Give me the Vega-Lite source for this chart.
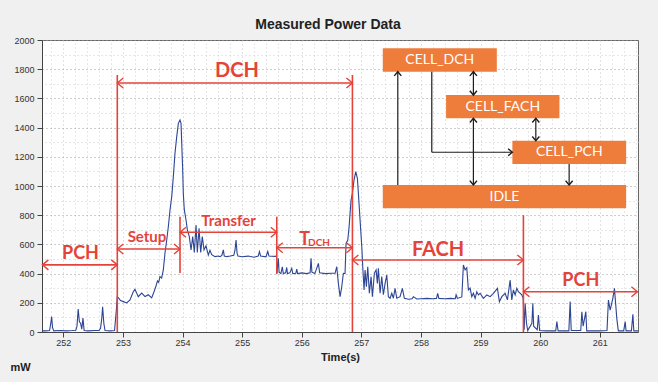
{
  "$schema": "https://vega.github.io/schema/vega-lite/v6.json",
  "autosize": "none",
  "width": 596,
  "height": 292,
  "padding": {"left": 42, "top": 40, "right": 20, "bottom": 50},
  "background": "#f0f0f0",
  "title": {"text": "Measured Power Data", "font": "Liberation Sans", "fontSize": 14, "fontWeight": "bold", "color": "#222", "anchor": "middle", "dx": -12, "offset": 4},
  "config": {
    "view": {"fill": "white", "stroke": "#666", "strokeWidth": 1},
    "axis": {"labelFont": "Liberation Sans", "labelFontSize": 9, "labelColor": "#333", "titleFont": "Liberation Sans", "titleFontSize": 11, "titleFontWeight": "bold", "titleColor": "#222", "domainColor": "#444", "tickColor": "#444", "gridDash": [1, 3]}
  },
  "resolve": {"axis": {"x": "independent", "y": "independent"}},
  "datasets": {
    "trace": [
      {"t":251.65,"p":8},{"t":251.70,"p":8},{"t":251.77,"p":10},{"t":251.79,"p":60},{"t":251.805,"p":105},{"t":251.82,"p":30},{"t":251.84,"p":8},{"t":251.95,"p":10},{"t":252.05,"p":8},{"t":252.15,"p":10},{"t":252.21,"p":12},{"t":252.23,"p":40},{"t":252.25,"p":157},{"t":252.27,"p":70},{"t":252.29,"p":60},{"t":252.31,"p":20},{"t":252.33,"p":95},{"t":252.35,"p":10},{"t":252.42,"p":8},{"t":252.52,"p":10},{"t":252.60,"p":10},{"t":252.625,"p":25},{"t":252.645,"p":90},{"t":252.66,"p":173},{"t":252.68,"p":60},{"t":252.70,"p":10},{"t":252.78,"p":8},{"t":252.86,"p":10},{"t":252.89,"p":150},{"t":252.905,"p":240},{"t":252.923,"p":235},{"t":252.96,"p":215},{"t":253.007,"p":208},{"t":253.064,"p":199},{"t":253.119,"p":219},{"t":253.174,"p":276},{"t":253.203,"p":292},{"t":253.258,"p":242},{"t":253.315,"p":267},{"t":253.371,"p":243},{"t":253.426,"p":255},{"t":253.483,"p":234},{"t":253.522,"p":276},{"t":253.555,"p":315},{"t":253.58,"p":350},{"t":253.60,"p":340},{"t":253.622,"p":379},{"t":253.65,"p":370},{"t":253.678,"p":425},{"t":253.706,"p":541},{"t":253.735,"p":630},{"t":253.762,"p":721},{"t":253.790,"p":836},{"t":253.819,"p":927},{"t":253.846,"p":1064},{"t":253.874,"p":1226},{"t":253.903,"p":1338},{"t":253.930,"p":1429},{"t":253.958,"p":1452},{"t":253.975,"p":1429},{"t":253.987,"p":1292},{"t":254.003,"p":1110},{"t":254.013,"p":950},{"t":254.030,"p":836},{"t":254.059,"p":767},{"t":254.081,"p":700},{"t":254.114,"p":653},{"t":254.143,"p":562},{"t":254.171,"p":653},{"t":254.198,"p":545},{"t":254.227,"p":733},{"t":254.248,"p":545},{"t":254.277,"p":710},{"t":254.305,"p":545},{"t":254.332,"p":653},{"t":254.361,"p":562},{"t":254.394,"p":590},{"t":254.433,"p":527},{"t":254.46,"p":560},{"t":254.490,"p":530},{"t":254.545,"p":516},{"t":254.60,"p":520},{"t":254.629,"p":516},{"t":254.66,"p":525},{"t":254.685,"p":562},{"t":254.70,"p":520},{"t":254.742,"p":516},{"t":254.80,"p":520},{"t":254.86,"p":525},{"t":254.88,"p":560},{"t":254.898,"p":630},{"t":254.915,"p":540},{"t":254.93,"p":520},{"t":255.00,"p":515},{"t":255.10,"p":520},{"t":255.20,"p":512},{"t":255.27,"p":520},{"t":255.29,"p":550},{"t":255.31,"p":520},{"t":255.40,"p":515},{"t":255.43,"p":552},{"t":255.45,"p":520},{"t":255.55,"p":518},{"t":255.575,"p":520},{"t":255.585,"p":405},{"t":255.607,"p":505},{"t":255.62,"p":410},{"t":255.65,"p":400},{"t":255.674,"p":447},{"t":255.69,"p":400},{"t":255.73,"p":405},{"t":255.748,"p":442},{"t":255.76,"p":400},{"t":255.80,"p":405},{"t":255.832,"p":436},{"t":255.85,"p":400},{"t":255.90,"p":402},{"t":255.916,"p":430},{"t":255.93,"p":400},{"t":256.00,"p":405},{"t":256.08,"p":400},{"t":256.14,"p":405},{"t":256.156,"p":505},{"t":256.17,"p":410},{"t":256.22,"p":400},{"t":256.279,"p":470},{"t":256.30,"p":405},{"t":256.40,"p":400},{"t":256.50,"p":402},{"t":256.559,"p":402},{"t":256.587,"p":447},{"t":256.614,"p":333},{"t":256.643,"p":242},{"t":256.671,"p":310},{"t":256.698,"p":402},{"t":256.726,"p":400},{"t":256.743,"p":607},{"t":256.772,"p":630},{"t":256.794,"p":721},{"t":256.827,"p":904},{"t":256.849,"p":950},{"t":256.877,"p":1041},{"t":256.906,"p":1098},{"t":256.933,"p":1053},{"t":256.950,"p":950},{"t":256.978,"p":767},{"t":257.007,"p":584},{"t":257.023,"p":447},{"t":257.045,"p":288},{"t":257.062,"p":425},{"t":257.084,"p":310},{"t":257.107,"p":447},{"t":257.134,"p":265},{"t":257.163,"p":379},{"t":257.185,"p":242},{"t":257.218,"p":402},{"t":257.247,"p":425},{"t":257.268,"p":333},{"t":257.285,"p":436},{"t":257.314,"p":265},{"t":257.342,"p":379},{"t":257.369,"p":255},{"t":257.398,"p":333},{"t":257.426,"p":390},{"t":257.453,"p":242},{"t":257.482,"p":231},{"t":257.510,"p":265},{"t":257.537,"p":231},{"t":257.565,"p":299},{"t":257.594,"p":231},{"t":257.649,"p":242},{"t":257.688,"p":299},{"t":257.721,"p":231},{"t":257.789,"p":224},{"t":257.85,"p":228},{"t":257.872,"p":242},{"t":257.929,"p":226},{"t":258.00,"p":228},{"t":258.10,"p":230},{"t":258.20,"p":228},{"t":258.26,"p":230},{"t":258.28,"p":265},{"t":258.30,"p":230},{"t":258.40,"p":228},{"t":258.50,"p":230},{"t":258.575,"p":228},{"t":258.589,"p":255},{"t":258.61,"p":230},{"t":258.685,"p":240},{"t":258.711,"p":459},{"t":258.740,"p":425},{"t":258.768,"p":440},{"t":258.795,"p":288},{"t":258.824,"p":300},{"t":258.852,"p":242},{"t":258.879,"p":265},{"t":258.908,"p":231},{"t":258.936,"p":276},{"t":258.963,"p":254},{"t":258.992,"p":265},{"t":259.047,"p":231},{"t":259.104,"p":254},{"t":259.160,"p":242},{"t":259.215,"p":265},{"t":259.282,"p":299},{"t":259.315,"p":208},{"t":259.356,"p":242},{"t":259.411,"p":265},{"t":259.450,"p":220},{"t":259.495,"p":356},{"t":259.523,"p":220},{"t":259.550,"p":288},{"t":259.579,"p":254},{"t":259.607,"p":299},{"t":259.634,"p":276},{"t":259.691,"p":254},{"t":259.715,"p":231},{"t":259.73,"p":15},{"t":259.747,"p":196},{"t":259.77,"p":60},{"t":259.79,"p":10},{"t":259.86,"p":60},{"t":259.876,"p":196},{"t":259.89,"p":40},{"t":259.95,"p":15},{"t":259.970,"p":116},{"t":259.99,"p":10},{"t":260.10,"p":8},{"t":260.26,"p":8},{"t":260.279,"p":71},{"t":260.30,"p":8},{"t":260.48,"p":8},{"t":260.502,"p":208},{"t":260.52,"p":10},{"t":260.68,"p":10},{"t":260.698,"p":139},{"t":260.72,"p":40},{"t":260.765,"p":139},{"t":260.78,"p":8},{"t":261.00,"p":8},{"t":261.12,"p":10},{"t":261.144,"p":219},{"t":261.173,"p":150},{"t":261.218,"p":231},{"t":261.245,"p":299},{"t":261.285,"p":90},{"t":261.31,"p":8},{"t":261.40,"p":8},{"t":261.425,"p":71},{"t":261.44,"p":8},{"t":261.53,"p":8},{"t":261.554,"p":121},{"t":261.57,"p":8},{"t":261.64,"p":8}
    ],
    "segs": [
      {"t1":252.906,"t2":252.906,"p1":0,"p2":1760,"col":"red"},
      {"t1":256.85,"t2":256.85,"p1":0,"p2":1760,"col":"red"},
      {"t1":253.958,"t2":253.958,"p1":404,"p2":790,"col":"red"},
      {"t1":255.581,"t2":255.581,"p1":397,"p2":790,"col":"red"},
      {"t1":259.718,"t2":259.718,"p1":0,"p2":800,"col":"red"},
      {"t1":251.65,"t2":252.906,"p1":460,"p2":460,"col":"red"},
      {"t1":252.906,"t2":253.958,"p1":568,"p2":568,"col":"red"},
      {"t1":253.958,"t2":255.581,"p1":683,"p2":683,"col":"red"},
      {"t1":255.581,"t2":256.85,"p1":577,"p2":577,"col":"red"},
      {"t1":252.906,"t2":256.85,"p1":1705,"p2":1705,"col":"red"},
      {"t1":256.85,"t2":259.718,"p1":493,"p2":493,"col":"red"},
      {"t1":259.718,"t2":261.63,"p1":276,"p2":276,"col":"red"},
      {"t1":257.611,"t2":257.611,"p1":1007,"p2":1783,"col":"black"},
      {"t1":258.879,"t2":258.879,"p1":1623,"p2":1783,"col":"black"},
      {"t1":259.926,"t2":259.926,"p1":1310,"p2":1464,"col":"black"},
      {"t1":258.181,"t2":258.181,"p1":1231,"p2":1783,"col":"black"},
      {"t1":258.181,"t2":259.533,"p1":1231,"p2":1231,"col":"black"},
      {"t1":258.879,"t2":258.879,"p1":1007,"p2":1464,"col":"black"},
      {"t1":260.485,"t2":260.485,"p1":1007,"p2":1151,"col":"black"}
    ],
    "heads": [
      {"t":251.65,"p":460,"dir":"left","col":"red"},{"t":252.906,"p":460,"dir":"right","col":"red"},
      {"t":252.906,"p":568,"dir":"left","col":"red"},{"t":253.958,"p":568,"dir":"right","col":"red"},
      {"t":253.958,"p":683,"dir":"left","col":"red"},{"t":255.581,"p":683,"dir":"right","col":"red"},
      {"t":255.581,"p":577,"dir":"left","col":"red"},{"t":256.85,"p":577,"dir":"right","col":"red"},
      {"t":252.906,"p":1705,"dir":"left","col":"red"},{"t":256.85,"p":1705,"dir":"right","col":"red"},
      {"t":256.85,"p":493,"dir":"left","col":"red"},{"t":259.718,"p":493,"dir":"right","col":"red"},
      {"t":259.718,"p":276,"dir":"left","col":"red"},{"t":261.63,"p":276,"dir":"right","col":"red"},
      {"t":257.611,"p":1783,"dir":"up","col":"black"},
      {"t":258.879,"p":1783,"dir":"up","col":"black"},{"t":258.879,"p":1623,"dir":"down","col":"black"},
      {"t":259.926,"p":1464,"dir":"up","col":"black"},{"t":259.926,"p":1310,"dir":"down","col":"black"},
      {"t":259.533,"p":1231,"dir":"right","col":"black"},
      {"t":258.879,"p":1464,"dir":"up","col":"black"},{"t":258.879,"p":1007,"dir":"down","col":"black"},
      {"t":260.485,"p":1007,"dir":"down","col":"black"}
    ],
    "boxes": [
      {"t1":257.359,"t2":259.272,"p1":1783,"p2":1943,"tm":258.316,"pm":1863,"label":"CELL_DCH"},
      {"t1":258.421,"t2":260.322,"p1":1464,"p2":1623,"tm":259.372,"pm":1543,"label":"CELL_FACH"},
      {"t1":259.533,"t2":261.441,"p1":1151,"p2":1310,"tm":260.487,"pm":1230,"label":"CELL_PCH"},
      {"t1":257.359,"t2":261.441,"p1":847,"p2":1007,"tm":259.40,"pm":927,"label":"IDLE"}
    ],
    "labels": [
      {"t":254.914,"p":1788,"text":"DCH","grp":"a"},
      {"t":252.289,"p":534,"text":"PCH","grp":"b"},
      {"t":253.404,"p":651,"text":"Setup","grp":"c"},
      {"t":254.772,"p":760,"text":"Transfer","grp":"c"},
      {"t":256.047,"p":630,"text":"T","grp":"b"},
      {"t":256.29,"p":610,"text":"DCH","grp":"d"},
      {"t":258.287,"p":562,"text":"FACH","grp":"a"},
      {"t":260.681,"p":346,"text":"PCH","grp":"b"}
    ]
  },
  "layer": [
    {
      "data": {"name": "trace"},
      "mark": {"type": "line", "color": "#2c4595", "strokeWidth": 1.1, "interpolate": "linear"},
      "encoding": {
        "x": {"field": "t", "type": "quantitative", "scale": {"domain": [251.643, 261.64], "nice": false, "zero": false},
          "axis": {"title": "Time(s)", "titlePadding": 4, "values": [252,253,254,255,256,257,258,259,260,261],
            "format": "d", "tickSize": 5, "labelPadding": 1, "grid": true, "gridColor": "#c4c4c4", "labelFlush": false, "labelOverlap": false}},
        "y": {"field": "p", "type": "quantitative", "scale": {"domain": [0, 2000], "nice": false},
          "axis": {"title": "mW", "titleAngle": 0, "titleAlign": "left", "titleBaseline": "middle", "titleX": -32, "titleY": 327,
            "values": [0,200,400,600,800,1000,1200,1400,1600,1800,2000], "format": "d",
            "tickSize": 5, "labelPadding": 3, "grid": true, "gridColor": "#9a9a9a", "labelOverlap": false}}
      }
    },
    {
      "data": {"name": "boxes"},
      "mark": {"type": "rect", "color": "#ee7c3a"},
      "encoding": {
        "x": {"field": "t1", "type": "quantitative", "axis": {"orient": "top", "values": [251.8,252.2,252.4,252.6,252.8,253.2,253.4,253.6,253.8,254.2,254.4,254.6,254.8,255.2,255.4,255.6,255.8,256.2,256.4,256.6,256.8,257.2,257.4,257.6,257.8,258.2,258.4,258.6,258.8,259.2,259.4,259.6,259.8,260.2,260.4,260.6,260.8,261.2,261.4,261.6], "labels": false, "ticks": false, "domain": false, "title": null, "grid": true, "gridColor": "#cfcfcf"}},
        "x2": {"field": "t2"},
        "y": {"field": "p1", "type": "quantitative", "axis": {"orient": "right", "values": [100,300,500,700,900,1100,1300,1500,1700,1900], "labels": false, "ticks": false, "domain": false, "title": null, "grid": true, "gridColor": "#cfcfcf"}},
        "y2": {"field": "p2"}
      }
    },
    {
      "data": {"name": "segs"},
      "mark": {"type": "rule"},
      "encoding": {
        "x": {"field": "t1", "type": "quantitative", "axis": null},
        "x2": {"field": "t2"},
        "y": {"field": "p1", "type": "quantitative", "axis": null},
        "y2": {"field": "p2"},
        "color": {"field": "col", "type": "nominal", "scale": {"domain": ["red", "black"], "range": ["#e4433a", "#1e1e1e"]}, "legend": null},
        "strokeWidth": {"field": "col", "type": "nominal", "scale": {"domain": ["red", "black"], "range": [1.6, 1.2]}, "legend": null}
      }
    },
    {
      "data": {"name": "heads"},
      "mark": {"type": "point", "filled": false, "opacity": 1, "strokeWidth": 1.4},
      "encoding": {
        "x": {"field": "t", "type": "quantitative", "axis": null},
        "y": {"field": "p", "type": "quantitative", "axis": null},
        "shape": {"field": "dir", "type": "nominal", "scale": {"domain": ["left", "right", "up", "down"], "range": ["M1.2,-1L0,0L1.2,1", "M-1.2,-1L0,0L-1.2,1", "M-1,1.2L0,0L1,1.2", "M-1,-1.2L0,0L1,-1.2"]}, "legend": null},
        "color": {"field": "col", "type": "nominal", "scale": {"domain": ["red", "black"], "range": ["#e4433a", "#1e1e1e"]}, "legend": null},
        "size": {"field": "col", "type": "nominal", "scale": {"domain": ["red", "black"], "range": [100, 50]}, "legend": null}
      }
    },
    {
      "data": {"name": "labels"},
      "transform": [{"filter": "datum.grp === 'a'"}],
      "mark": {"type": "text", "font": "Lato", "fontWeight": "bold", "fontSize": 20, "color": "#e4433a", "align": "center", "baseline": "middle"},
      "encoding": {"x": {"field": "t", "type": "quantitative", "axis": null}, "y": {"field": "p", "type": "quantitative", "axis": null}, "text": {"field": "text"}}
    },
    {
      "data": {"name": "labels"},
      "transform": [{"filter": "datum.grp === 'b'"}],
      "mark": {"type": "text", "font": "Lato", "fontWeight": "bold", "fontSize": 18, "color": "#e4433a", "align": "center", "baseline": "middle"},
      "encoding": {"x": {"field": "t", "type": "quantitative", "axis": null}, "y": {"field": "p", "type": "quantitative", "axis": null}, "text": {"field": "text"}}
    },
    {
      "data": {"name": "labels"},
      "transform": [{"filter": "datum.grp === 'c'"}],
      "mark": {"type": "text", "font": "Lato", "fontWeight": "bold", "fontSize": 15, "color": "#e4433a", "align": "center", "baseline": "middle"},
      "encoding": {"x": {"field": "t", "type": "quantitative", "axis": null}, "y": {"field": "p", "type": "quantitative", "axis": null}, "text": {"field": "text"}}
    },
    {
      "data": {"name": "labels"},
      "transform": [{"filter": "datum.grp === 'd'"}],
      "mark": {"type": "text", "font": "Lato", "fontWeight": "bold", "fontSize": 10, "color": "#e4433a", "align": "center", "baseline": "middle"},
      "encoding": {"x": {"field": "t", "type": "quantitative", "axis": null}, "y": {"field": "p", "type": "quantitative", "axis": null}, "text": {"field": "text"}}
    },
    {
      "data": {"name": "boxes"},
      "mark": {"type": "text", "font": "Lato", "fontSize": 14, "color": "white", "align": "center", "baseline": "middle"},
      "encoding": {
        "x": {"field": "tm", "type": "quantitative", "axis": null},
        "y": {"field": "pm", "type": "quantitative", "axis": null},
        "text": {"field": "label"}
      }
    }
  ]
}
